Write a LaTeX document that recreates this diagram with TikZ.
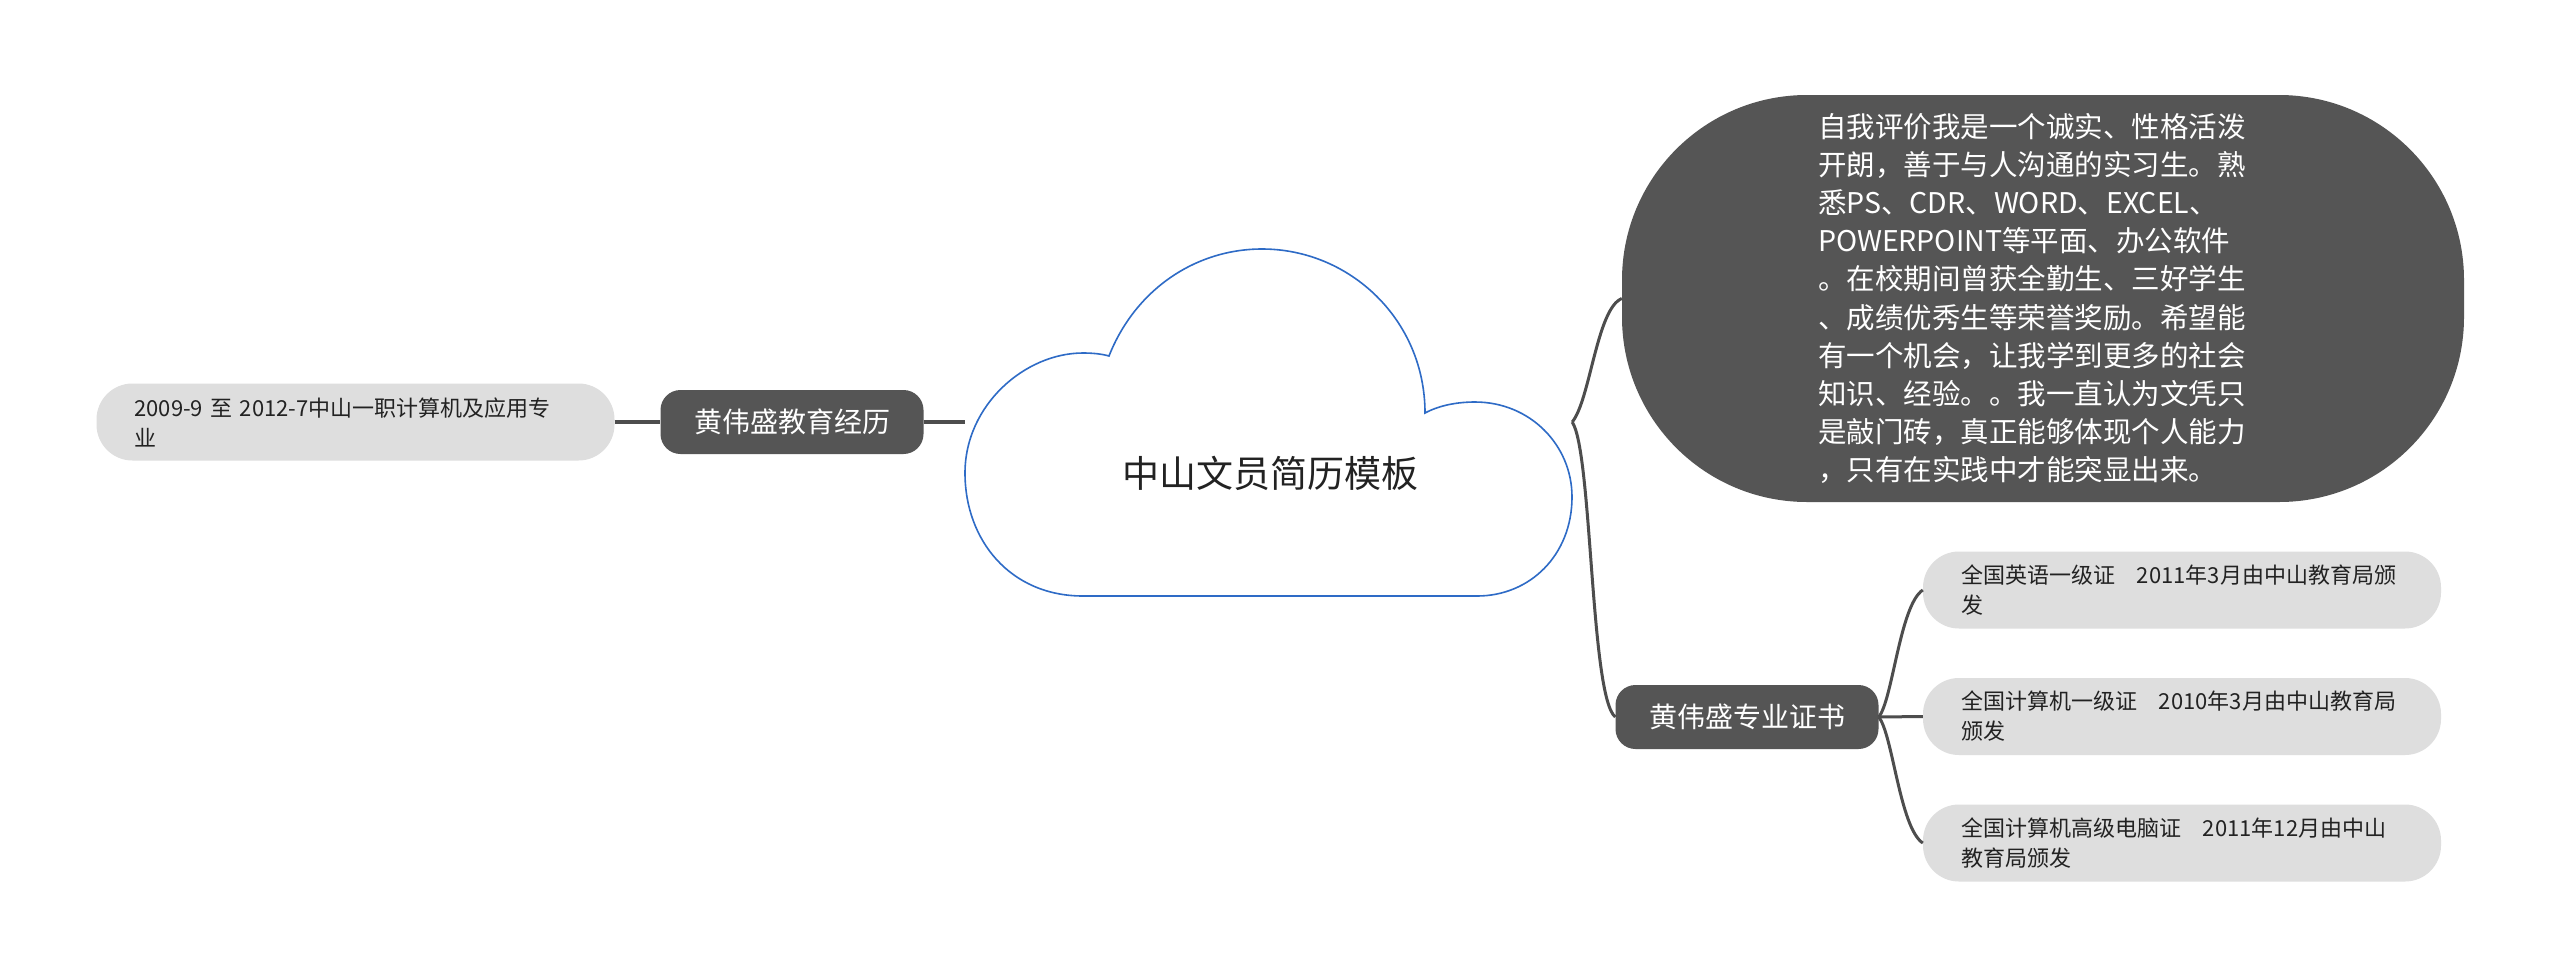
\documentclass[tikz,border=0pt]{standalone}
\usepackage{fontspec}
\setmainfont{Noto Sans CJK SC}
\definecolor{darkc}{HTML}{555555}
\definecolor{leafc}{HTML}{DEDEDE}
\definecolor{connc}{HTML}{4D4D4D}
\definecolor{cloudc}{HTML}{2E6BC6}
\definecolor{textc}{HTML}{222222}
\begin{document}
\begin{tikzpicture}[x=1pt,y=-1pt,
  darknode/.style={fill=darkc, text=white, rounded corners=20pt, minimum width=263pt, minimum height=64pt, inner sep=0pt, font=\fontsize{28}{34}\selectfont},
  leafnode/.style={fill=leafc, text=textc, rounded corners=36pt, minimum height=77pt, inner xsep=38pt, inner ysep=0pt, text width=442pt, align=left, font=\fontsize{22}{30}\selectfont},
  bignode/.style={fill=darkc, text=white, rounded corners=185pt, minimum width=842pt, minimum height=407pt, inner sep=0pt, text width=450pt, align=left, font=\fontsize{28.5}{38.2}\selectfont},
  conn/.style={draw=connc, line width=3.2pt},
  cloudline/.style={draw=cloudc, line width=1.6pt, fill=white}
]
\fill[white] (0,0) rectangle (2560,978);
\useasboundingbox (0,0) rectangle (2560,978);

% central cloud
\draw[cloudline] (1083,596) .. controls (1010,596) and (965,540) .. (965,473)
  .. controls (965,405) and (1025,353) .. (1083,353)
  .. controls (1093,353) and (1102,354) .. (1109,356)
  .. controls (1135,290) and (1195,249) .. (1262,249)
  .. controls (1350,249) and (1425,320) .. (1425,413)
  .. controls (1440,405) and (1458,402) .. (1475,402)
  .. controls (1530,402) and (1572,445) .. (1572,497)
  .. controls (1572,555) and (1530,596) .. (1477,596) -- cycle;
\node[minimum width=607pt, minimum height=348pt, inner sep=0pt] (root) at (1268.5,422) {};
\node[font=\fontsize{37}{44}\selectfont, text=textc] (title) at (1270,473) {中山文员简历模板};

% left branch
\node[darknode] (edu) at (792,422) {黄伟盛教育经历};
\node[leafnode] (eduleaf) at (355.5,422) {2009-9 至 2012-7中山一职计算机及应用专\\业};

% right branch
\node[bignode] (self) at (2043,298.5) {自我评价我是一个诚实、性格活泼\\开朗，善于与人沟通的实习生。熟\\悉PS、CDR、WORD、EXCEL、\\POWERPOINT等平面、办公软件\\。在校期间曾获全勤生、三好学生\\、成绩优秀生等荣誉奖励。希望能\\有一个机会，让我学到更多的社会\\知识、经验。。我一直认为文凭只\\是敲门砖，真正能够体现个人能力\\，只有在实践中才能突显出来。};
\node[darknode] (cert) at (1747,717) {黄伟盛专业证书};
\node[leafnode] (c1) at (2182,590) {全国英语一级证~~~2011年3月由中山教育局颁\\发};
\node[leafnode] (c2) at (2182,716.5) {全国计算机一级证~~~2010年3月由中山教育局\\颁发};
\node[leafnode] (c3) at (2182,843) {全国计算机高级电脑证~~~2011年12月由中山\\教育局颁发};

% connectors
\draw[conn] (eduleaf.east) -- (edu.west);
\draw[conn] (edu.east) -- (root.west);
\draw[conn, line width=3pt] (root.east) .. controls +(18,-22) and +(-25,10) .. (self.west);
\draw[conn, line width=3pt] (root.east) .. controls +(20,30) and +(-25,-20) .. (cert.west);
\draw[conn, line width=3pt] (cert.east) .. controls +(14,-17) and +(-23,15) .. (c1.west);
\draw[conn, line width=3pt] (cert.east) -- (c2.west);
\draw[conn, line width=3pt] (cert.east) .. controls +(14,17) and +(-23,-15) .. (c3.west);
\end{tikzpicture}
\end{document}
